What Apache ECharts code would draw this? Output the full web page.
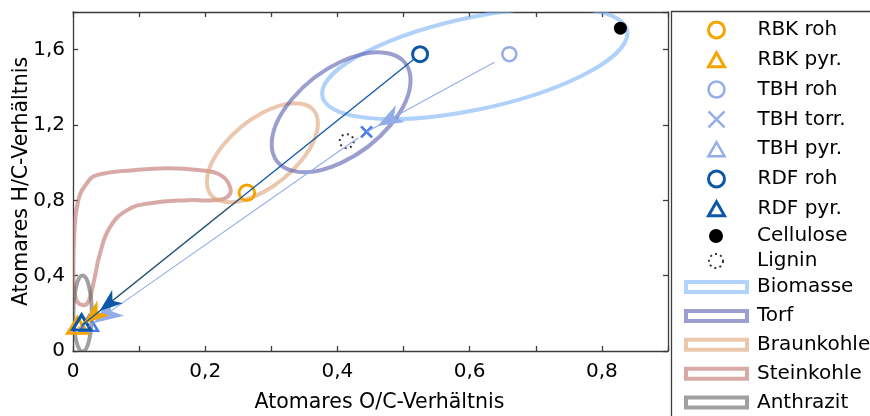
<!DOCTYPE html>
<html>
<head>
<meta charset="utf-8">
<script src="https://cdn.jsdelivr.net/npm/echarts@6/dist/echarts.min.js"></script>
<style>
  html, body { margin: 0; padding: 0; background: #fff; }
  #chart { width: 870px; height: 416px; }
</style>
</head>
<body>
<div id="chart"></div>
<script>
// Atomic ratios [O/C, H/C] of the raw and treated fuels
const rbkRoh    = [[0.263, 0.840]];
const rbkPyr    = [[0.007, 0.120]];
const tbhRoh    = [[0.660, 1.576]];
const tbhTorr   = [[0.444, 1.163]];
const tbhPyr    = [[0.024, 0.131]];
const rdfRoh    = [[0.525, 1.576]];
const rdfPyr    = [[0.013, 0.136]];
const cellulose = [[0.828, 1.714]];
const lignin    = [[0.414, 1.114]];

// Conversion paths [fromX, fromY, toX, toY]
const pathRDF     = [[rdfRoh[0][0], rdfRoh[0][1], rdfPyr[0][0], rdfPyr[0][1]]];
const pathRBK     = [[rbkRoh[0][0], rbkRoh[0][1], rbkPyr[0][0], rbkPyr[0][1]]];
const pathTBHTorr = [[tbhRoh[0][0], tbhRoh[0][1], tbhTorr[0][0], tbhTorr[0][1]]];
const pathTBHPyr  = [[tbhTorr[0][0], tbhTorr[0][1], tbhPyr[0][0], tbhPyr[0][1]]];

// Fuel regions as ellipses: [centerX, centerY, rightmost dX, rightmost dY, vertical half chord]
const regionBiomasse   = [0.6077, 1.527, 0.231, 0.160, 0.249];
const regionTorf       = [0.4056, 1.268, 0.105, 0.170, 0.269];
const regionBraunkohle = [0.2865, 1.053, 0.0839, 0.155, 0.212];
const regionAnthrazit  = [0.0145, 0.199, 0.0139, 0.0, 0.2016];
// Hard coal region outline [O/C, H/C]
const regionSteinkohle = [
  [0.001, 0.361], [0.002, 0.626], [0.008, 0.801], [0.021, 0.891], [0.036, 0.934],
  [0.091, 0.960], [0.143, 0.971], [0.192, 0.960], [0.223, 0.934], [0.238, 0.865],
  [0.233, 0.817], [0.212, 0.801], [0.173, 0.801], [0.117, 0.785], [0.082, 0.748],
  [0.056, 0.658], [0.041, 0.520], [0.031, 0.361], [0.023, 0.260], [0.014, 0.244],
  [0.005, 0.271]
];

// Axis ticks
const xTickValues = [0, 0.2, 0.4, 0.6, 0.8];
const xTickLabels = ['0', '0,2', '0,4', '0,6', '0,8'];
const yTickValues = [0, 0.4, 0.8, 1.2, 1.6];
const yTickLabels = ['0', '0,4', '0,8', '1,2', '1,6'];

const FONT = 'DejaVu Sans';
const FRAME = '#3c3c3c';
const C_ORANGE = '#f5a400';
const C_DARK = '#0d58a6';
const C_LIGHT = '#93ade8';
const C_BRIGHT = '#4678ef';

const TRI = 'path://M0,14L8,0L16,14Z';
const CROSS = 'path://M0,0L10,10M10,0L0,10';
// Triangle marks sit on their circumcentre, a little below the box centre
const TRI_SHIFT = [0, -3];

function tickLabel(values, labels) {
  return function (v) {
    const i = values.findIndex(t => Math.abs(t - v) < 1e-6);
    return i < 0 ? '' : labels[i];
  };
}

// Ellipse from a centre and two conjugate half diameters, as four cubic Beziers
function ellipseSeries(name, e, color) {
  return {
    type: 'custom', name: name, clip: true, z: 1, silent: true,
    data: [[e[0], e[1]]],
    renderItem: function (params, api) {
      const c = api.coord([e[0], e[1]]);
      const pu = api.coord([e[0] + e[2], e[1] + e[3]]);
      const pv = api.coord([e[0], e[1] + e[4]]);
      const U = [pu[0] - c[0], pu[1] - c[1]];
      const V = [pv[0] - c[0], pv[1] - c[1]];
      const P = (a, b) => [c[0] + a * U[0] + b * V[0], c[1] + a * U[1] + b * V[1]];
      const k = 0.5523;
      const q = [[1, 0], [0, 1], [-1, 0], [0, -1], [1, 0]];
      let d = 'M' + P(1, 0).join(' ');
      for (let i = 0; i < 4; i++) {
        const a0 = q[i][0], b0 = q[i][1], a1 = q[i + 1][0], b1 = q[i + 1][1];
        const c1 = P(a0 - k * b0, b0 + k * a0);
        const c2 = P(a1 + k * b1, b1 - k * a1);
        const p = P(a1, b1);
        d += ' C' + c1.join(' ') + ' ' + c2.join(' ') + ' ' + p.join(' ');
      }
      d += ' Z';
      return {
        type: 'path',
        shape: { pathData: d },
        style: { fill: 'none', stroke: color, lineWidth: 4, opacity: 0.6 }
      };
    }
  };
}

function outlineSeries(name, pts, color) {
  return {
    type: 'custom', name: name, clip: true, z: 1, silent: true,
    data: pts,
    renderItem: function (params, api) {
      if (params.dataIndex !== 0) return null;
      return {
        type: 'polygon',
        shape: { points: pts.map(p => api.coord(p)), smooth: 0.45 },
        style: { fill: 'none', stroke: color, lineWidth: 4, opacity: 0.6 }
      };
    }
  };
}

// Straight conversion path with a stealth arrow head near its end
function arrowSeries(data, color, lineWidth, startGap, tipGap, headLen, headHalf) {
  return {
    type: 'custom', clip: true, z: 7, silent: true,
    data: data,
    renderItem: function (params, api) {
      const p0 = api.coord([api.value(0), api.value(1)]);
      const p1 = api.coord([api.value(2), api.value(3)]);
      const dx = p1[0] - p0[0], dy = p1[1] - p0[1];
      const len = Math.hypot(dx, dy);
      const ux = dx / len, uy = dy / len, nx = -uy, ny = ux;
      const a = [p0[0] + ux * startGap, p0[1] + uy * startGap];
      const tip = [p1[0] - ux * tipGap, p1[1] - uy * tipGap];
      const base = [tip[0] - ux * headLen, tip[1] - uy * headLen];
      const notch = [tip[0] - ux * headLen * 0.72, tip[1] - uy * headLen * 0.72];
      return {
        type: 'group',
        children: [
          { type: 'line', shape: { x1: a[0], y1: a[1], x2: p1[0], y2: p1[1] },
            style: { stroke: color, lineWidth: lineWidth } },
          { type: 'polygon',
            shape: { points: [tip, [base[0] + nx * headHalf, base[1] + ny * headHalf], notch,
                              [base[0] - nx * headHalf, base[1] - ny * headHalf]] },
            style: { fill: color } }
        ]
      };
    }
  };
}

function marker(name, data, symbol, size, color, fill, width, offset) {
  return {
    type: 'scatter', name: name, data: data, symbol: symbol, symbolSize: size, z: 6,
    symbolOffset: offset || [0, 0], silent: true,
    itemStyle: { color: fill, borderColor: color, borderWidth: width, opacity: 1 }
  };
}

const axisBase = {
  axisLine: { show: true, onZero: false, lineStyle: { color: FRAME, width: 1.3 } },
  axisTick: { show: true, inside: true, length: 5, lineStyle: { color: FRAME, width: 1.3 } },
  splitLine: { show: false }
};

function legendText(pad) {
  return { fontFamily: FONT, fontSize: 20, color: '#000', lineHeight: 20, padding: [0, 0, 0, pad] };
}

const option = {
  backgroundColor: '#fff',
  animation: false,
  textStyle: { fontFamily: FONT },
  grid: { left: 73, top: 12, width: 595, height: 339, containLabel: false, outerBoundsMode: 'none' },
  xAxis: [
    Object.assign({}, axisBase, {
      type: 'value', min: 0, max: 0.9, interval: 0.1, position: 'bottom',
      name: 'Atomares O/C-Verhältnis', nameLocation: 'middle', nameGap: 40,
      nameTextStyle: { fontFamily: FONT, fontSize: 20.5, color: '#000', lineHeight: 24, padding: [0, 0, 0, 18] },
      axisLabel: { show: true, margin: 11, fontFamily: FONT, fontSize: 20, color: '#000',
                   formatter: tickLabel(xTickValues, xTickLabels) }
    }),
    Object.assign({}, axisBase, {
      type: 'value', min: 0, max: 0.9, interval: 0.1, position: 'top',
      axisLabel: { show: false }
    })
  ],
  yAxis: [
    Object.assign({}, axisBase, {
      type: 'value', min: 0, max: 1.8, interval: 0.4, position: 'left',
      name: 'Atomares H/C-Verhältnis', nameLocation: 'middle', nameGap: 39, nameMoveOverlap: false,
      nameTextStyle: { fontFamily: FONT, fontSize: 20.5, color: '#000', lineHeight: 24 },
      axisLabel: { show: true, margin: 8, fontFamily: FONT, fontSize: 20, color: '#000',
                   formatter: tickLabel(yTickValues, yTickLabels) }
    }),
    Object.assign({}, axisBase, {
      type: 'value', min: 0, max: 1.8, interval: 0.4, position: 'right',
      axisLabel: { show: false }
    })
  ],
  graphic: [{
    type: 'rect', z: -10, silent: true,
    shape: { x: 671.5, y: 11.5, width: 300, height: 500 },
    style: { fill: '#fff', stroke: FRAME, lineWidth: 1.3 }
  }],
  legend: [
    {
      orient: 'vertical', left: 702, top: 15, height: 220, itemWidth: 16, itemHeight: 16, itemGap: 9.8,
      selectedMode: false, textStyle: legendText(28),
      data: [
        { name: 'RBK roh', icon: 'circle', itemStyle: { color: 'rgba(0,0,0,0)', borderColor: C_ORANGE, borderWidth: 3 } },
        { name: 'RBK pyr.', icon: TRI, itemStyle: { color: 'rgba(0,0,0,0)', borderColor: C_ORANGE, borderWidth: 3 } },
        { name: 'TBH roh', icon: 'circle', itemStyle: { color: 'rgba(0,0,0,0)', borderColor: C_LIGHT, borderWidth: 2.5 } },
        { name: 'TBH torr.', icon: CROSS, itemStyle: { color: 'rgba(0,0,0,0)', borderColor: C_LIGHT, borderWidth: 2.5 } },
        { name: 'TBH pyr.', icon: TRI, itemStyle: { color: 'rgba(0,0,0,0)', borderColor: C_LIGHT, borderWidth: 2.5 } },
        { name: 'RDF roh', icon: 'circle', itemStyle: { color: 'rgba(0,0,0,0)', borderColor: C_DARK, borderWidth: 3 } },
        { name: 'RDF pyr.', icon: TRI, itemStyle: { color: 'rgba(0,0,0,0)', borderColor: C_DARK, borderWidth: 3 } }
      ]
    },
    {
      orient: 'vertical', left: 703, top: 221, height: 60, itemWidth: 14, itemHeight: 14, itemGap: 5,
      selectedMode: false, textStyle: legendText(29),
      data: [
        { name: 'Cellulose', icon: 'circle', itemStyle: { color: '#000', borderWidth: 0 } },
        { name: 'Lignin', icon: 'circle', itemStyle: { color: 'rgba(0,0,0,0)', borderColor: '#000', borderWidth: 2, borderType: [2, 3.3] } }
      ]
    },
    {
      orient: 'vertical', left: 679, top: 272, height: 200, itemWidth: 61, itemHeight: 10, itemGap: 8.9,
      selectedMode: false, textStyle: legendText(5),
      data: [
        { name: 'Biomasse', icon: 'rect', itemStyle: { color: '#fff', borderColor: '#b2d3fa', borderWidth: 4 } },
        { name: 'Torf', icon: 'rect', itemStyle: { color: '#fff', borderColor: '#9c9ed0', borderWidth: 4 } },
        { name: 'Braunkohle', icon: 'rect', itemStyle: { color: '#fff', borderColor: '#ebc7ac', borderWidth: 4 } },
        { name: 'Steinkohle', icon: 'rect', itemStyle: { color: '#fff', borderColor: '#d8aaa7', borderWidth: 4 } },
        { name: 'Anthrazit', icon: 'rect', itemStyle: { color: '#fff', borderColor: '#a0a0a0', borderWidth: 4 } }
      ]
    }
  ],
  series: [
    ellipseSeries('Biomasse', regionBiomasse, '#7bb4f7'),
    outlineSeries('Steinkohle', regionSteinkohle, '#be716c'),
    ellipseSeries('Braunkohle', regionBraunkohle, '#dea376'),
    ellipseSeries('Torf', regionTorf, '#5a5db1'),
    ellipseSeries('Anthrazit', regionAnthrazit, '#616161'),

    arrowSeries(pathTBHPyr, C_LIGHT, 1.1, 10, 6, 29, 11.5),
    arrowSeries(pathRBK, C_ORANGE, 1.3, 9, 7, 26, 9.5),
    arrowSeries(pathRDF, C_DARK, 1.3, 8, 23, 23, 8.5),
    arrowSeries(pathTBHTorr, C_LIGHT, 1.1, 17, 12.5, 26, 9.5),

    marker('RBK pyr.', rbkPyr, TRI, [20, 16], C_ORANGE, 'rgba(0,0,0,0)', 3, TRI_SHIFT),
    marker('TBH pyr.', tbhPyr, TRI, [18, 15], C_BRIGHT, 'rgba(0,0,0,0)', 2.5, TRI_SHIFT),
    marker('RDF pyr.', rdfPyr, TRI, [18, 15], C_DARK, 'rgba(0,0,0,0)', 3, TRI_SHIFT),
    marker('RBK roh', rbkRoh, 'circle', 15.5, C_ORANGE, 'rgba(0,0,0,0)', 3),
    marker('TBH roh', tbhRoh, 'circle', 14, C_LIGHT, 'rgba(0,0,0,0)', 2.5),
    marker('RDF roh', rdfRoh, 'circle', 15, C_DARK, 'rgba(0,0,0,0)', 3),
    marker('TBH torr.', tbhTorr, CROSS, 11, C_BRIGHT, 'rgba(0,0,0,0)', 2.5),
    marker('Cellulose', cellulose, 'circle', 13, '#000', '#000', 0),
    {
      type: 'scatter', name: 'Lignin', data: lignin, symbol: 'circle', symbolSize: 14, z: 6, silent: true,
      itemStyle: { color: 'rgba(0,0,0,0)', borderColor: '#000', borderWidth: 2, borderType: [2, 3.5] }
    }
  ]
};

const chart = echarts.init(document.getElementById('chart'), null, { renderer: 'canvas' });
chart.setOption(option);
</script>
</body>
</html>
